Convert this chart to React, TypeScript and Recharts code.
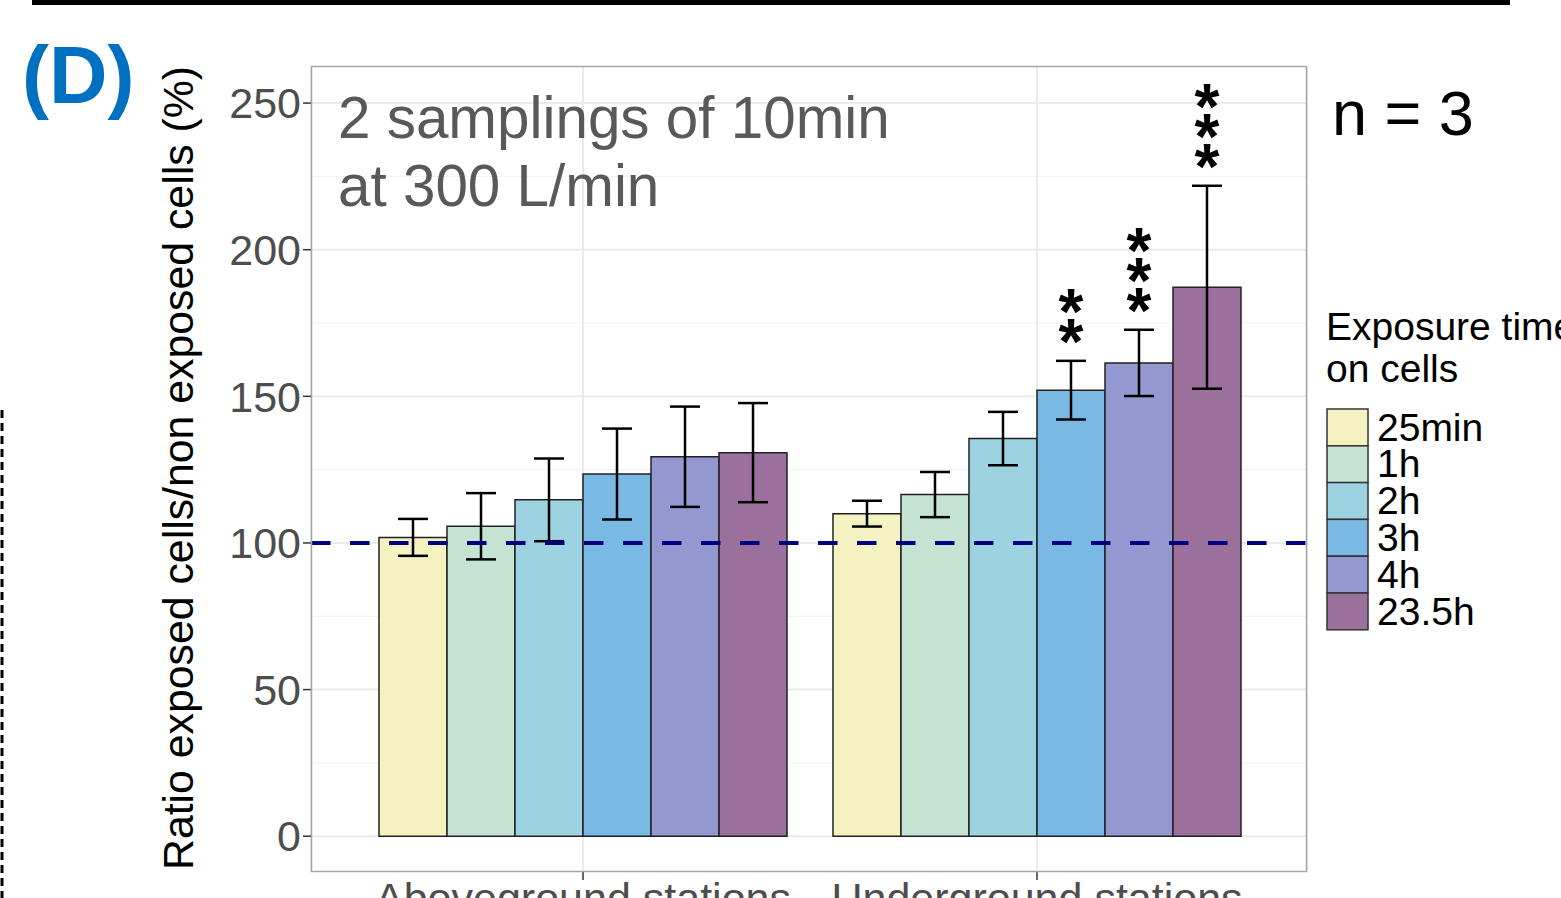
import React from "react";
import {
  BarChart,
  Bar,
  XAxis,
  YAxis,
  CartesianGrid,
  ErrorBar,
  ReferenceLine,
  Legend,
} from "recharts";

const categories = ["Aboveground stations", "Underground stations"];
const exposureTimes = ["25min", "1h", "2h", "3h", "4h", "23.5h"];
const colors = ["#F3F2C0", "#C4E3D3", "#9DD3E0", "#7AB9E4", "#9398D0", "#9B709C"];

// ratio exposed / non exposed (%), mean and sd per exposure time
const aboveMean = [101.9, 105.7, 114.7, 123.5, 129.4, 130.8];
const aboveSd = [6.3, 11.3, 14.1, 15.5, 17.1, 16.9];
const aboveSig = ["", "", "", "", "", ""];
const underMean = [110.0, 116.5, 135.6, 152.1, 161.4, 187.2];
const underSd = [4.4, 7.7, 9.1, 10.0, 11.3, 34.6];
const underSig = ["", "", "", "**", "***", "***"];

const yTicks = [0, 50, 100, 150, 200, 250];
const yMinor = [25, 75, 125, 175, 225];
const yDomain: [number, number] = [-12.2, 262.3];
const refValue = 100;

const means = [aboveMean, underMean];
const sds = [aboveSd, underSd];
const sigs = [aboveSig, underSig];

const rows = categories.map((name, c) => {
  const row: Record<string, string | number> = { name };
  exposureTimes.forEach((_, i) => {
    row[`m${i}`] = means[c][i];
    row[`e${i}`] = sds[c][i];
  });
  return row;
});

const FONT = "'Liberation Sans', Arial, Helvetica, sans-serif";

// stars stacked above the error bar, positioned from the bar's own geometry
function starLabel(series: number) {
  return (props: any) => {
    const index = Number(props.index);
    const sig = sigs[index]?.[series] ?? "";
    if (!sig) return null;
    const x = Number(props.x);
    const y = Number(props.y);
    const width = Number(props.width);
    const height = Number(props.height);
    const pxPerUnit = height / means[index][series];
    const top = y - sds[index][series] * pxPerUnit;
    const cx = x + width / 2;
    return (
      <g>
        {sig.split("").map((s, k) => (
          <text
            key={k}
            x={cx}
            y={top - 34 - k * 30 + 37}
            textAnchor="middle"
            fontSize={64}
            fontWeight="bold"
            fill="#000"
          >
            {s}
          </text>
        ))}
      </g>
    );
  };
}

const renderLegend = (props: any) => {
  const payload = [...(props.payload ?? [])].sort(
    (a: any, b: any) => exposureTimes.indexOf(a.value) - exposureTimes.indexOf(b.value)
  );
  return (
    <svg width={243} height={345} style={{ display: "block", fontFamily: FONT }}>
      <text x={8} y={50} fontSize={39} fill="#000">Exposure time</text>
      <text x={8} y={92} fontSize={39} fill="#000">on cells</text>
      {payload.map((p: any, i: number) => (
        <g key={p.value}>
          <rect
            x={9}
            y={119 + i * 36.8}
            width={41}
            height={36.8}
            fill={p.payload?.fill ?? p.color}
            stroke="#333"
            strokeWidth={1.5}
          />
          <text x={59} y={119 + i * 36.8 + 31.5} fontSize={39} fill="#000">
            {p.value}
          </text>
        </g>
      ))}
    </svg>
  );
};

export default function App() {
  return (
    <div
      style={{
        position: "absolute",
        left: 0,
        top: 0,
        width: 1561,
        height: 898,
        overflow: "hidden",
        background: "#fff",
        fontFamily: FONT,
      }}
    >
      <div style={{ position: "absolute", left: 0, top: 0 }}>
        <BarChart
          width={1561}
          height={940}
          data={rows}
          margin={{ top: 67, right: 254, bottom: 28, left: 251 }}
          barCategoryGap={23}
          barGap={0}
        >
          <CartesianGrid
            vertical={false}
            horizontalValues={yMinor}
            stroke="#f2f2f2"
            strokeWidth={1}
          />
          <CartesianGrid
            horizontalValues={yTicks}
            stroke="#ebebeb"
            strokeWidth={2}
          />
          <XAxis
            dataKey="name"
            padding={{ left: 45, right: 43 }}
            tickSize={8}
            tickLine={{ stroke: "#333", strokeWidth: 1.5 }}
            axisLine={false}
            tick={{ fontSize: 43, fill: "#4d4d4d" }}
            interval={0}
            height={40}
          />
          <YAxis
            type="number"
            domain={yDomain}
            ticks={yTicks}
            allowDataOverflow
            width={60}
            tickSize={8}
            tickLine={{ stroke: "#333", strokeWidth: 1.5 }}
            axisLine={false}
            tick={{ fontSize: 43, fill: "#4d4d4d" }}
            interval={0}
          />
          {exposureTimes.map((t, i) => (
            <Bar
              key={t}
              dataKey={`m${i}`}
              name={t}
              fill={colors[i]}
              stroke="#222"
              strokeWidth={1.5}
              isAnimationActive={false}
              label={starLabel(i)}
            >
              <ErrorBar dataKey={`e${i}`} width={15} stroke="#000" strokeWidth={2.5} />
            </Bar>
          ))}
          <ReferenceLine
            y={refValue}
            stroke="#00007f"
            strokeWidth={4}
            strokeDasharray="19.5 19.5"
          />
          <Legend
            layout="horizontal"
            verticalAlign="middle"
            align="center"
            content={renderLegend}
            wrapperStyle={{ position: "absolute", left: 1318, top: 290, width: 243, height: 345 }}
          />
        </BarChart>
      </div>
      <svg
        width={1561}
        height={898}
        style={{ position: "absolute", left: 0, top: 0, pointerEvents: "none", fontFamily: FONT }}
      >
        <rect x={32} y={0} width={1478} height={5} fill="#000" />
        <line x1={2} y1={410} x2={2} y2={898} stroke="#000" strokeWidth={3} strokeDasharray="8 5" />
        <text x={22} y={103} fontSize={81} fontWeight="bold" fill="#0070C0">(D)</text>
        <text
          x={193}
          y={468}
          transform="rotate(-90 193 468)"
          textAnchor="middle"
          fontSize={42.8}
          fill="#000"
        >
          Ratio exposed cells/non exposed cells (%)
        </text>
        <rect x={311.5} y={66.5} width={995} height={805} fill="none" stroke="#a6a6a6" strokeWidth={1.5} />
        <text x={338} y={138} fontSize={58.4} fill="#595959">2 samplings of 10min</text>
        <text x={338} y={206} fontSize={58.4} fill="#595959">at 300 L/min</text>
        <text x={1332} y={135} fontSize={63} fill="#000">n = 3</text>
      </svg>
    </div>
  );
}
